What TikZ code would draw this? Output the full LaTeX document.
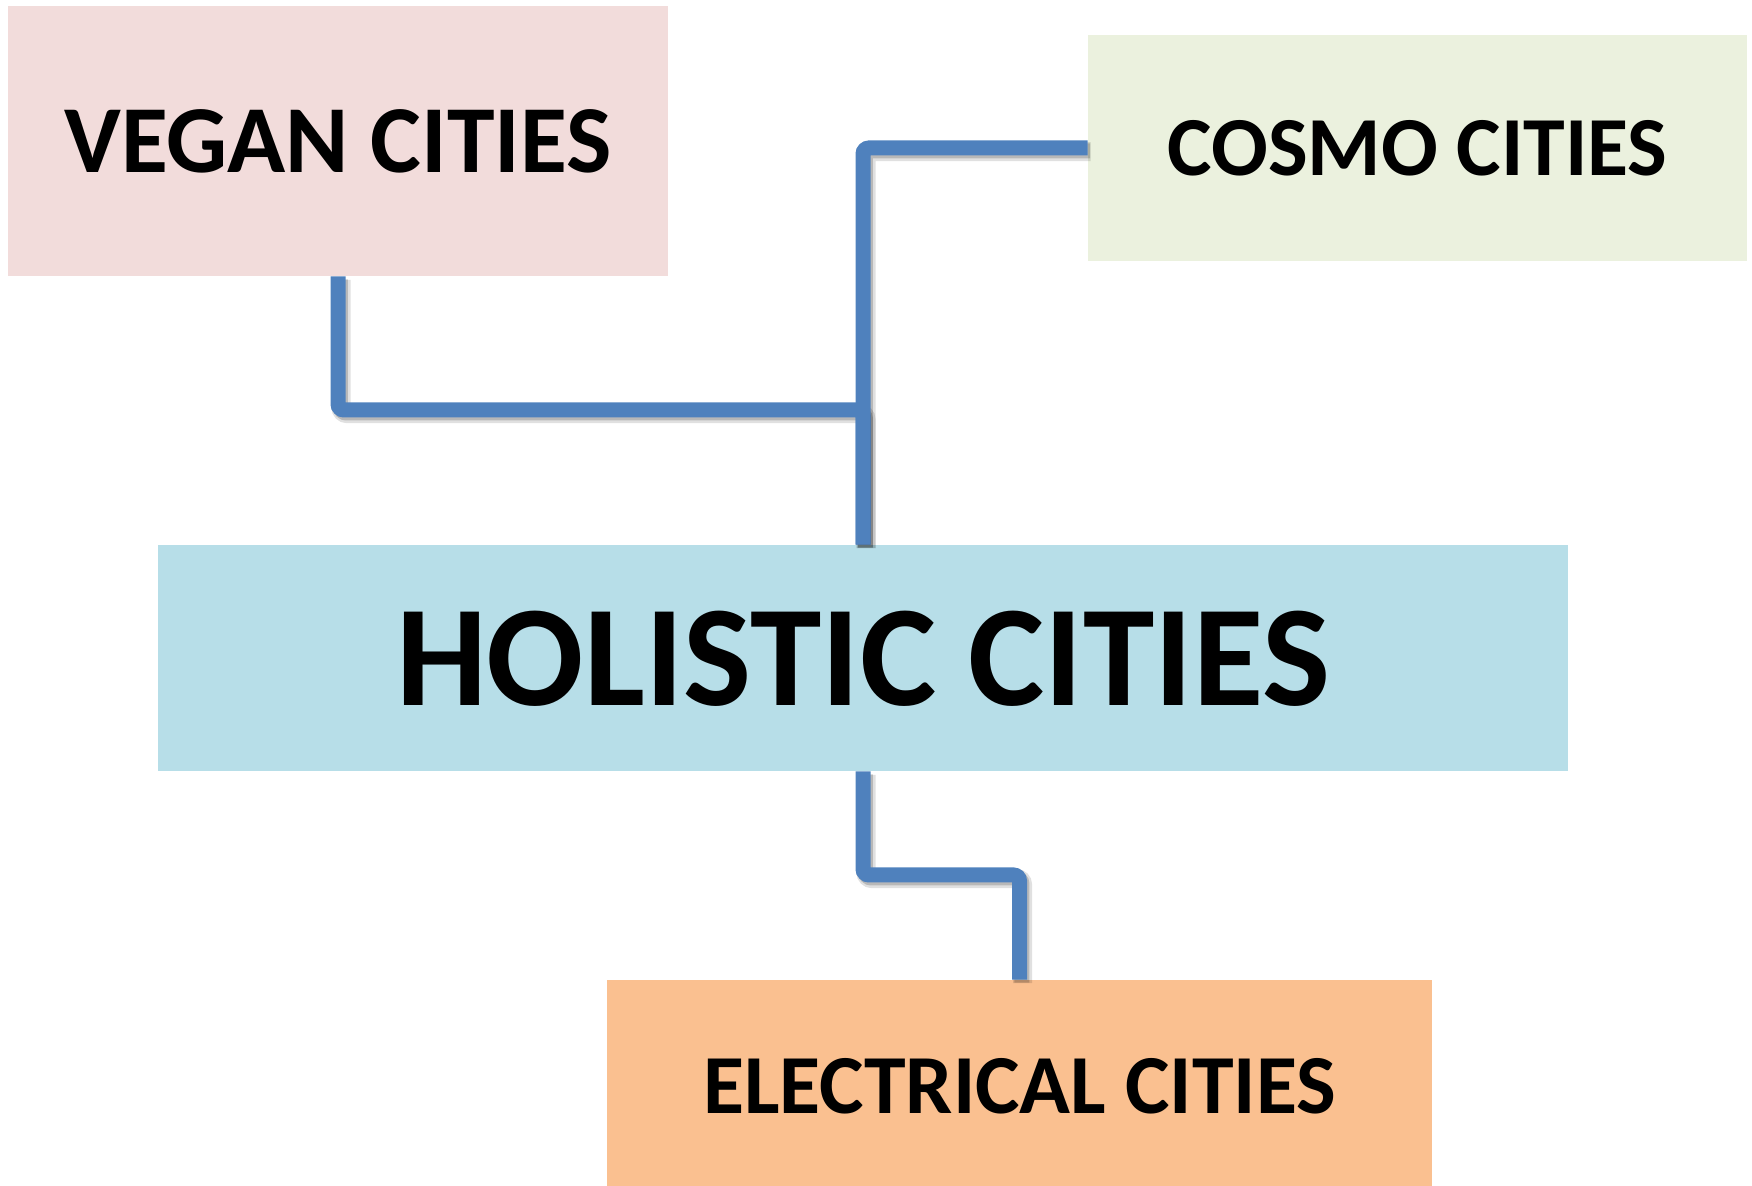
\documentclass[tikz,border=0pt]{standalone}
\usepackage{xcolor}
\usepackage{fontspec}
\setmainfont{Carlito}
\usepackage{tikz}
\usetikzlibrary{positioning, arrows.meta}
\definecolor{veganpink}{HTML}{F2DCDB}
\definecolor{cosmogreen}{HTML}{EBF1DE}
\definecolor{holisticblue}{HTML}{B7DEE8}
\definecolor{electricorange}{HTML}{FAC090}
\definecolor{linkblue}{HTML}{4F81BD}

\begin{document}
\begin{tikzpicture}[x=0.5pt, y=-0.5pt,
    citybox/.style={rectangle, inner sep=0pt, text depth=0pt,
      font=\bfseries},
    link/.style={draw=linkblue, line width=7.5pt, rounded corners=3pt,
      preaction={draw=black, opacity=0.12, line width=9.5pt,
        transform canvas={xshift=1.5pt, yshift=-1.8pt}},
      preaction={draw=black, opacity=0.18, line width=7.5pt,
        transform canvas={xshift=1.2pt, yshift=-1.5pt}}}]
    \useasboundingbox (0,0) rectangle (1752,1186);

    % the four boxes
    \node[citybox, fill=veganpink, minimum width=330pt, minimum height=135pt,
          font=\bfseries\fontsize{48}{56}\selectfont] (vegan) at (338,141) {VEGAN CITIES};
    \node[citybox, fill=cosmogreen, minimum width=329.5pt, minimum height=113pt,
          font=\bfseries\fontsize{42}{50}\selectfont] (cosmo) at (1417.5,148) {COSMO CITIES};
    \node[citybox, fill=holisticblue, minimum width=705pt, minimum height=113pt,
          font=\bfseries\fontsize{72}{80}\selectfont] (holistic) at (863,658) {HOLISTIC CITIES};
    \node[citybox, fill=electricorange, minimum width=412.5pt, minimum height=106pt,
          font=\bfseries\fontsize{42}{50}\selectfont] (electrical) at (1019.5,1086) {ELECTRICAL CITIES};

    % elbow connectors
    \coordinate (veganbend) at (600,410);
    \coordinate (electricbend) at (940,875);
    \draw[link] (vegan.south) |- (veganbend) -| (holistic.north);
    \draw[link] (cosmo.west) -| (holistic.north);
    \draw[link] (holistic.south) |- (electricbend) -| (electrical.north);
\end{tikzpicture}
\end{document}
